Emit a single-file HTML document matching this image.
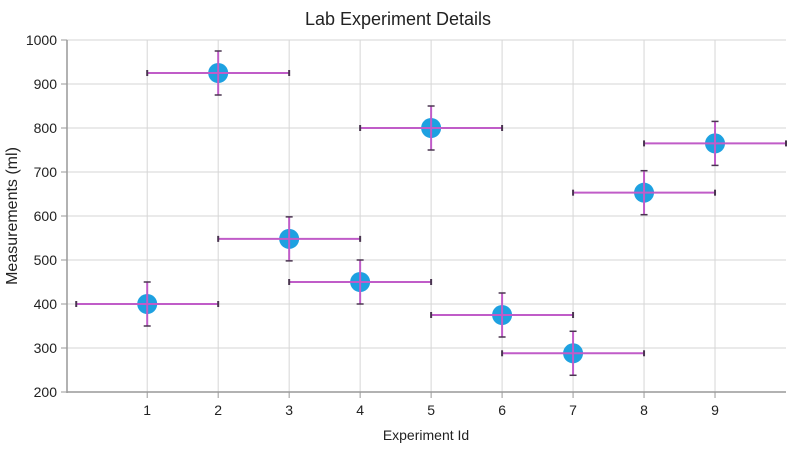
<!DOCTYPE html>
<html><head><meta charset="utf-8"><style>
body{margin:0;background:#fff;font-family:"Liberation Sans","DejaVu Sans",sans-serif}
</style></head><body>
<svg id="chart" width="800" height="450" xmlns="http://www.w3.org/2000/svg">
<text x="398" y="25" text-anchor="middle" font-size="18" fill="#222">Lab Experiment Details</text>
<text x="426" y="440" text-anchor="middle" font-size="14" fill="#222">Experiment Id</text>
<text transform="translate(17,216) rotate(-90)" text-anchor="middle" font-size="16" fill="#222">Measurements (ml)</text>
<g id="grid"></g><g id="axes"></g><g id="marks"></g>
</svg>
<script>
const ids=[1,2,3,4,5,6,7,8,9];
const values=[400,925,548,450,800,375,288,653,765];
const xErr=[1,1,1,1,1,1,1,1,1];
const yErr=[50,50,50,50,50,50,50,50,50];
const yTicks=[200,300,400,500,600,700,800,900,1000];
const xTicks=[1,2,3,4,5,6,7,8,9];
const L=67,R=786,T=40,B=392,XMIN=-0.13,XMAX=10,YMIN=200,YMAX=1000;
const sx=v=>L+(v-XMIN)/(XMAX-XMIN)*(R-L);
const sy=v=>B-(v-YMIN)/(YMAX-YMIN)*(B-T);
const NS="http://www.w3.org/2000/svg";
function mk(p,t,a){const e=document.createElementNS(NS,t);for(const k in a)e.setAttribute(k,a[k]);p.appendChild(e);return e;}
const grid=document.getElementById('grid'),axes=document.getElementById('axes'),marks=document.getElementById('marks');
yTicks.forEach(v=>{
 const l=mk(grid,'line',{x1:L,x2:R,y1:sy(v),y2:sy(v),stroke:'#d6d6d6','stroke-width':1});
 
 
 const t=mk(axes,'text',{x:L-10,y:sy(v)+5,'text-anchor':'end','font-size':14,fill:'#222'});t.textContent=v;
 
 
 mk(axes,'line',{x1:L-6,x2:L,y1:sy(v),y2:sy(v),stroke:'#999'});
});
xTicks.forEach(v=>{
 const l=mk(grid,'line',{x1:sx(v),x2:sx(v),y1:T,y2:B,stroke:'#d6d6d6','stroke-width':1});
 
 
 mk(axes,'line',{x1:sx(v),x2:sx(v),y1:B,y2:B+6,stroke:'#999'});
 const t=mk(axes,'text',{x:sx(v),y:B+23,'text-anchor':'middle','font-size':14,fill:'#222'});t.textContent=v;
 
 
});
const ya=mk(axes,'line',{x1:L,x2:L,y1:T,y2:B+1,stroke:'#999','stroke-width':1.5});


const xa=mk(axes,'line',{x1:L,x2:R,y1:B,y2:B,stroke:'#999','stroke-width':1.5});


ids.forEach((id,i)=>{
 const cx=sx(id),cy=sy(values[i]);
 const g=mk(marks,'g',{});
 
 
 mk(g,'circle',{cx:cx,cy:cy,r:10,fill:'#1ea1e1'});
 const x1=sx(id-xErr[i]),x2=sx(id+xErr[i]),y1=sy(values[i]+yErr[i]),y2=sy(values[i]-yErr[i]);
 mk(g,'line',{x1:x1,x2:x2,y1:cy,y2:cy,stroke:'#c05cc8','stroke-width':2});
 mk(g,'line',{x1:cx,x2:cx,y1:y1,y2:y2,stroke:'#c05cc8','stroke-width':2});
 [x1,x2].forEach(x=>mk(g,'line',{x1:x,x2:x,y1:cy-3,y2:cy+3,stroke:'#4a3550','stroke-width':2}));
 [y1,y2].forEach(y=>mk(g,'line',{x1:cx-3.5,x2:cx+3.5,y1:y,y2:y,stroke:'#4a3550','stroke-width':1.5}));
});
</script>
</body></html>
